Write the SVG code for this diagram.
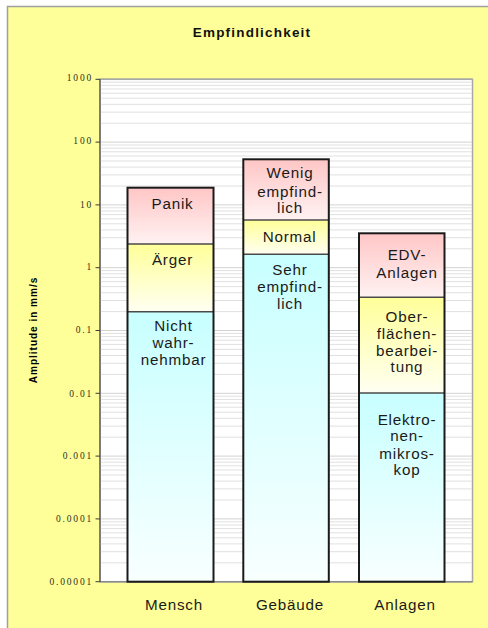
<svg xmlns="http://www.w3.org/2000/svg" xmlns:xlink="http://www.w3.org/1999/xlink" width="488" height="628" viewBox="0 0 488 628">
<style>
.seg{font-family:"Liberation Sans",Arial,sans-serif;font-size:15.2px;letter-spacing:0.8px;fill:#1a1a1a;text-anchor:middle}
.cat{font-family:"Liberation Sans",Arial,sans-serif;font-size:15.2px;letter-spacing:0.8px;fill:#1a1a1a;text-anchor:middle}
.tick{font-family:"Liberation Serif","Times New Roman",serif;font-size:9.5px;letter-spacing:1.8px;fill:#2e2e22;text-anchor:end}
.grid line{stroke:#e0e0e0;stroke-width:1}
.bar{stroke:#1a1a1a;stroke-width:2;fill:none}
.div{stroke:#4a4a4a;stroke-width:1.5}
</style>
<defs>
<linearGradient id="gPink" x1="0" y1="0" x2="0" y2="1"><stop offset="0" stop-color="#ffc6c6"/><stop offset="1" stop-color="#fff2f2"/></linearGradient>
<linearGradient id="gYel" x1="0" y1="0" x2="0" y2="1"><stop offset="0" stop-color="#ffff99"/><stop offset="1" stop-color="#fffff2"/></linearGradient>
<linearGradient id="gCyan" x1="0" y1="0" x2="0" y2="1"><stop offset="0" stop-color="#c8ffff"/><stop offset="1" stop-color="#f8ffff"/></linearGradient>
<g id="decade" class="grid">
<line x1="100" x2="472" y1="2.9" y2="2.9"/>
<line x1="100" x2="472" y1="6.1" y2="6.1"/>
<line x1="100" x2="472" y1="9.7" y2="9.7"/>
<line x1="100" x2="472" y1="13.9" y2="13.9"/>
<line x1="100" x2="472" y1="18.9" y2="18.9"/>
<line x1="100" x2="472" y1="25" y2="25"/>
<line x1="100" x2="472" y1="32.8" y2="32.8"/>
<line x1="100" x2="472" y1="43.9" y2="43.9"/>
<line x1="100" x2="472" y1="62.8" y2="62.8" style="stroke:#d2d2d2"/>
</g>
</defs>
<rect x="0" y="0" width="488" height="628" fill="#ffffff"/>
<rect x="7.5" y="6.5" width="492" height="632" fill="#ffff99" stroke="#a0a0a0" stroke-width="1.5"/>
<text x="252" y="36.5" font-family="Liberation Sans,Arial,sans-serif" font-size="13.5" font-weight="bold" letter-spacing="1.2" text-anchor="middle" fill="#111">Empfindlichkeit</text>
<text transform="translate(36.5,330) rotate(-90)" font-family="Liberation Sans,Arial,sans-serif" font-size="10" font-weight="900" letter-spacing="1" text-anchor="middle" fill="#000">Amplitude in mm/s</text>
<g id="plot">
<rect x="100" y="79.3" width="372.5" height="502.4" fill="#ffffff" stroke="#a8a8a8" stroke-width="1.5"/>
<use xlink:href="#decade" href="#decade" y="79.3"/>
<use xlink:href="#decade" href="#decade" y="142.1"/>
<use xlink:href="#decade" href="#decade" y="204.9"/>
<use xlink:href="#decade" href="#decade" y="267.7"/>
<use xlink:href="#decade" href="#decade" y="330.5"/>
<use xlink:href="#decade" href="#decade" y="393.3"/>
<use xlink:href="#decade" href="#decade" y="456.1"/>
<use xlink:href="#decade" href="#decade" y="518.9"/>
<line x1="100" y1="79.3" x2="472.5" y2="79.3" stroke="#a8a8a8" stroke-width="1.5"/>
<line x1="100" y1="581.7" x2="472.5" y2="581.7" stroke="#8a8a8a" stroke-width="1.5"/>
<line x1="100" y1="79.3" x2="100" y2="581.7" stroke="#3a3a3a" stroke-width="1"/>
</g>
<g id="axis">
<g stroke="#3a3a3a" stroke-width="1">
<line x1="95.5" x2="100" y1="79.3" y2="79.3"/>
<line x1="95.5" x2="100" y1="142.1" y2="142.1"/>
<line x1="95.5" x2="100" y1="204.9" y2="204.9"/>
<line x1="95.5" x2="100" y1="267.7" y2="267.7"/>
<line x1="95.5" x2="100" y1="330.5" y2="330.5"/>
<line x1="95.5" x2="100" y1="393.3" y2="393.3"/>
<line x1="95.5" x2="100" y1="456.1" y2="456.1"/>
<line x1="95.5" x2="100" y1="518.9" y2="518.9"/>
<line x1="95.5" x2="100" y1="581.7" y2="581.7"/>
</g>
<text class="tick" x="93" y="80.5">1000</text>
<text class="tick" x="93" y="144.3">100</text>
<text class="tick" x="93" y="208">10</text>
<text class="tick" x="93" y="270">1</text>
<text class="tick" x="93" y="333">0.1</text>
<text class="tick" x="93" y="396.5">0.01</text>
<text class="tick" x="93" y="459">0.001</text>
<text class="tick" x="93" y="522">0.0001</text>
<text class="tick" x="93" y="584.5">0.00001</text>
</g>
<g id="mensch">
<rect x="127.5" y="187.7" width="86" height="56.3" fill="url(#gPink)"/>
<rect x="127.5" y="244" width="86" height="67.7" fill="url(#gYel)"/>
<rect x="127.5" y="311.7" width="86" height="270" fill="url(#gCyan)"/>
<line class="div" x1="127.5" x2="213.5" y1="244" y2="244"/>
<line class="div" x1="127.5" x2="213.5" y1="311.7" y2="311.7"/>
<rect class="bar" x="127.5" y="187.7" width="86" height="394"/>
<text class="seg" x="172.5" y="208.5">Panik</text>
<text class="seg" x="172.5" y="264.5">Ärger</text>
<text class="seg" x="173.5" y="331">Nicht</text>
<text class="seg" x="173.5" y="348">wahr-</text>
<text class="seg" x="173.5" y="365">nehmbar</text>
</g>
<g id="gebaeude">
<rect x="243.3" y="159.3" width="85.5" height="60.7" fill="url(#gPink)"/>
<rect x="243.3" y="220" width="85.5" height="34.3" fill="url(#gYel)"/>
<rect x="243.3" y="254.3" width="85.5" height="327.4" fill="url(#gCyan)"/>
<line class="div" x1="243.3" x2="328.8" y1="220" y2="220"/>
<line class="div" x1="243.3" x2="328.8" y1="254.3" y2="254.3"/>
<rect class="bar" x="243.3" y="159.3" width="85.5" height="422.4"/>
<text class="seg" x="290" y="178">Wenig</text>
<text class="seg" x="290" y="196.5">empfind-</text>
<text class="seg" x="290" y="213">lich</text>
<text class="seg" x="289.5" y="241.5">Normal</text>
<text class="seg" x="290" y="275">Sehr</text>
<text class="seg" x="290" y="292">empfind-</text>
<text class="seg" x="290" y="308.5">lich</text>
</g>
<g id="anlagen">
<rect x="359" y="233.3" width="85.5" height="64" fill="url(#gPink)"/>
<rect x="359" y="297.3" width="85.5" height="95.7" fill="url(#gYel)"/>
<rect x="359" y="393" width="85.5" height="188.7" fill="url(#gCyan)"/>
<line class="div" x1="359" x2="444.5" y1="297.3" y2="297.3"/>
<line class="div" x1="359" x2="444.5" y1="393" y2="393"/>
<rect class="bar" x="359" y="233.3" width="85.5" height="348.4"/>
<text class="seg" x="407" y="260">EDV-</text>
<text class="seg" x="407" y="277.5">Anlagen</text>
<text class="seg" x="407" y="322">Ober-</text>
<text class="seg" x="407" y="338.5">flächen-</text>
<text class="seg" x="407" y="355.5">bearbei-</text>
<text class="seg" x="407" y="371.5">tung</text>
<text class="seg" x="407" y="424.5">Elektro-</text>
<text class="seg" x="407" y="441">nen-</text>
<text class="seg" x="407" y="458.5">mikros-</text>
<text class="seg" x="407" y="474.5">kop</text>
</g>
<g id="categories">
<text class="cat" x="174" y="610">Mensch</text>
<text class="cat" x="290" y="610">Gebäude</text>
<text class="cat" x="405" y="610">Anlagen</text>
</g>
<g id="connectors"/>
</svg>
